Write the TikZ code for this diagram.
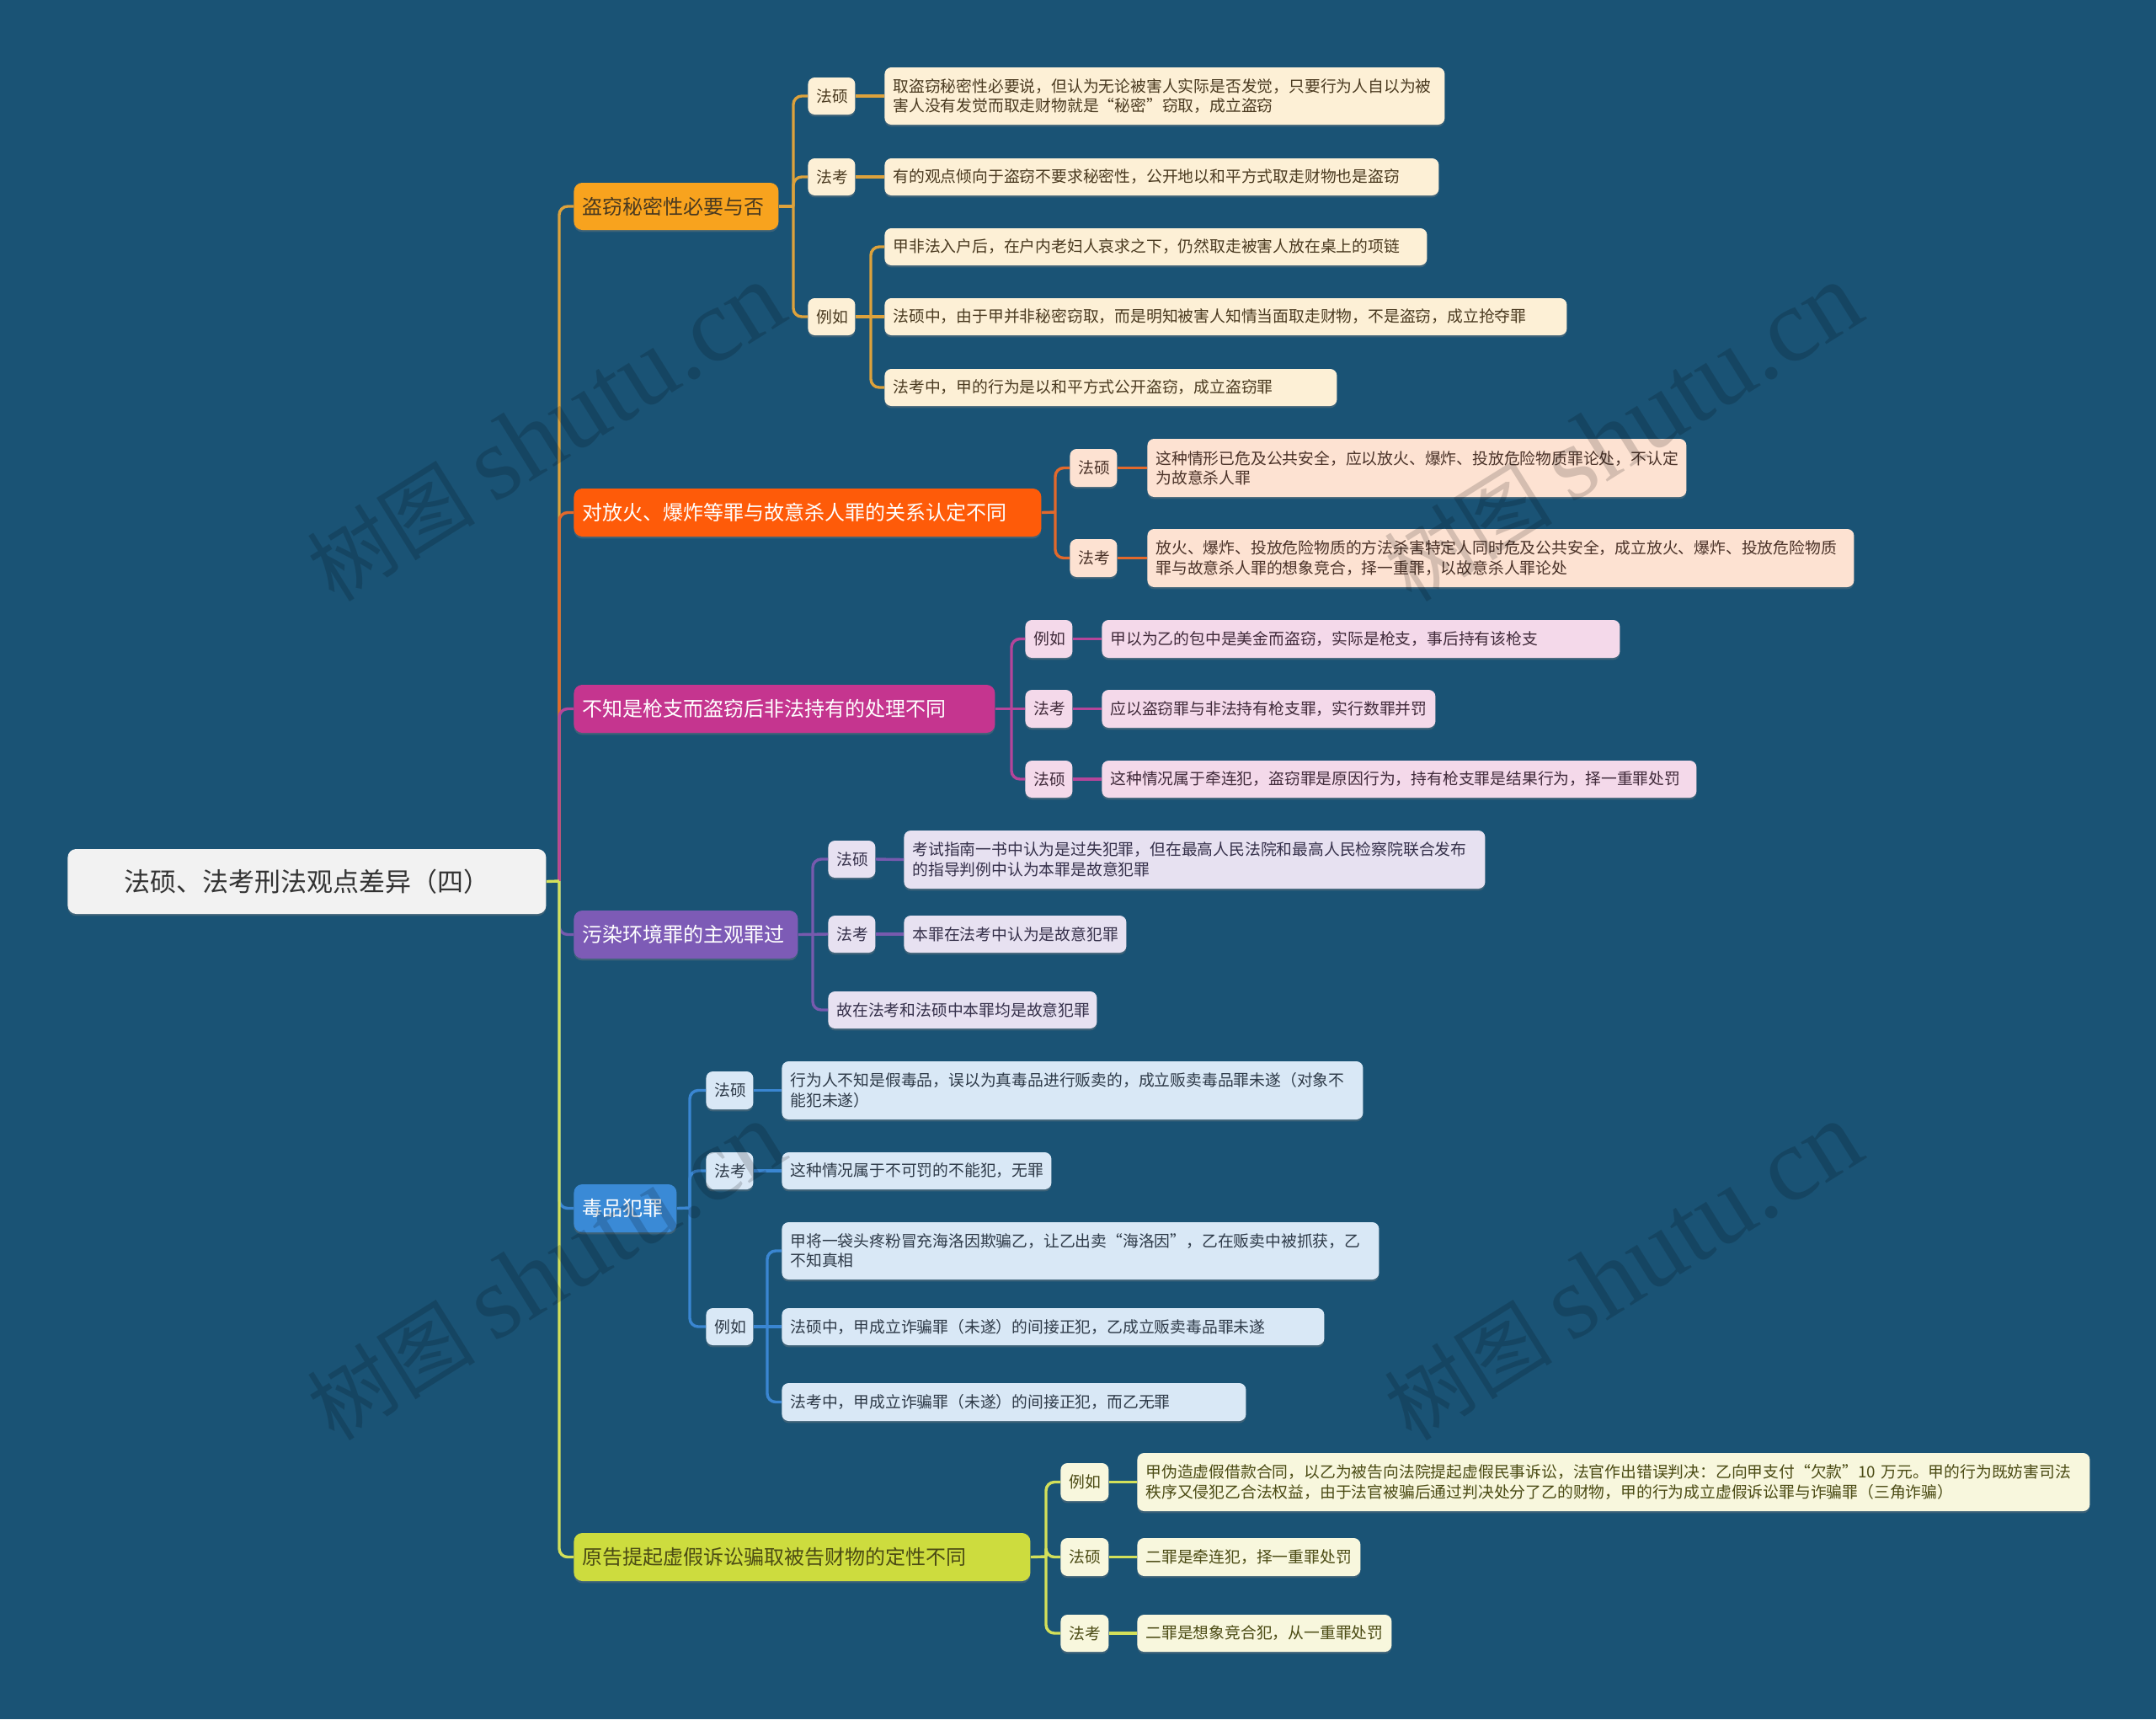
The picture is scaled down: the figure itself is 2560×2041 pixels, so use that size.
\documentclass[tikz,border=0pt]{standalone}
\usepackage{fontspec}
\setmainfont{Noto Sans CJK SC}
\newfontfamily\wmserif{Liberation Serif}
\usetikzlibrary{shadows}

\definecolor{bgblue}{HTML}{1A5375}
\definecolor{rootfill}{HTML}{F2F2F2}
\definecolor{roottext}{HTML}{333333}
\definecolor{afill}{HTML}{F8A31E}\definecolor{aline}{HTML}{DDA23C}\definecolor{aleaf}{HTML}{FDF0D6}\definecolor{atext}{HTML}{4A3A20}
\definecolor{bfill}{HTML}{FE5B09}\definecolor{bline}{HTML}{E2692C}\definecolor{bleaf}{HTML}{FDE2D2}\definecolor{btext}{HTML}{4A3228}
\definecolor{cfill}{HTML}{C5358F}\definecolor{cline}{HTML}{B5459A}\definecolor{cleaf}{HTML}{F4D9EA}\definecolor{ctext}{HTML}{402A3A}
\definecolor{dfill}{HTML}{7D5BB6}\definecolor{dline}{HTML}{775AAE}\definecolor{dleaf}{HTML}{E7E1F1}\definecolor{dtext}{HTML}{35304A}
\definecolor{efill}{HTML}{3A8AD6}\definecolor{eline}{HTML}{3A86D2}\definecolor{eleaf}{HTML}{D9E8F6}\definecolor{etext}{HTML}{2E3A48}
\definecolor{ffill}{HTML}{CDDC3E}\definecolor{fline}{HTML}{D3E05A}\definecolor{fleaf}{HTML}{F8F7DD}\definecolor{ftext}{HTML}{4B4B14}

\tikzset{
  box/.style={rounded corners=4pt, inner xsep=5pt, inner ysep=0pt,
    drop shadow={shadow xshift=0pt, shadow yshift=-1.2pt, opacity=.35}},
  rootbox/.style={box, rounded corners=5pt, fill=rootfill, text=roottext, align=center, font=\fontsize{15.5}{18}\selectfont},
  topic/.style={box, rounded corners=5pt, align=left, font=\fontsize{12}{14}\selectfont},
  tag/.style={box, align=center, font=\fontsize{9.4}{11.7}\selectfont},
  leaf/.style={box, align=left, font=\fontsize{9.4}{11.7}\selectfont},
  link/.style={draw=#1, line width=1.7pt, rounded corners=5pt},
  watermark/.style={rotate=32, text=black, opacity=.16},
}

\newcommand\mmnode[7]{%
  \pgfmathsetmacro\mmtw{(#5-#3)/2-10}%
  \pgfmathsetmacro\mmht{(#6-#4)/2}%
  \node[#2, anchor=west, text width=\mmtw pt, minimum height=\mmht pt]
    (#1) at (#3,{(#4+#6)/2}) {#7};}

\begin{document}
\begin{tikzpicture}[x=0.5pt, y=-0.5pt]
\useasboundingbox (0,0) rectangle (2560,2041);
\fill[bgblue] (0,0) rectangle (2560,2041);

\mmnode{root}{rootbox}{80}{1008}{648}{1085}{法硕、法考刑法观点差异（四）}

\mmnode{b1}{topic, fill=afill, text=atext}{681}{217}{924}{273}{盗窃秘密性必要与否}
\mmnode{l1a}{tag, fill=aleaf, text=atext}{959}{92}{1015}{136}{法硕}
\mmnode{t1a}{leaf, fill=aleaf, text=atext}{1050}{80}{1715}{148}{取盗窃秘密性必要说，但认为无论被害人实际是否发觉，只要行为人自以为被\\害人没有发觉而取走财物就是“秘密”窃取，成立盗窃}
\mmnode{l1b}{tag, fill=aleaf, text=atext}{959}{188}{1015}{232}{法考}
\mmnode{t1b}{leaf, fill=aleaf, text=atext}{1050}{188}{1708}{232}{有的观点倾向于盗窃不要求秘密性，公开地以和平方式取走财物也是盗窃}
\mmnode{l1c}{tag, fill=aleaf, text=atext}{959}{354}{1015}{398}{例如}
\mmnode{t1c1}{leaf, fill=aleaf, text=atext}{1050}{271}{1694}{315}{甲非法入户后，在户内老妇人哀求之下，仍然取走被害人放在桌上的项链}
\mmnode{t1c2}{leaf, fill=aleaf, text=atext}{1050}{354}{1860}{398}{法硕中，由于甲并非秘密窃取，而是明知被害人知情当面取走财物，不是盗窃，成立抢夺罪}
\mmnode{t1c3}{leaf, fill=aleaf, text=atext}{1050}{438}{1587}{482}{法考中，甲的行为是以和平方式公开盗窃，成立盗窃罪}

\mmnode{b2}{topic, fill=bfill, text=white}{681}{580}{1236}{637}{对放火、爆炸等罪与故意杀人罪的关系认定不同}
\mmnode{l2a}{tag, fill=bleaf, text=btext}{1270}{533}{1326}{578}{法硕}
\mmnode{t2a}{leaf, fill=bleaf, text=btext}{1362}{521}{2002}{590}{这种情形已危及公共安全，应以放火、爆炸、投放危险物质罪论处，不认定\\为故意杀人罪}
\mmnode{l2b}{tag, fill=bleaf, text=btext}{1270}{640}{1326}{685}{法考}
\mmnode{t2b}{leaf, fill=bleaf, text=btext}{1362}{628}{2201}{697}{放火、爆炸、投放危险物质的方法杀害特定人同时危及公共安全，成立放火、爆炸、投放危险物质\\罪与故意杀人罪的想象竞合，择一重罪，以故意杀人罪论处}

\mmnode{b3}{topic, fill=cfill, text=white}{681}{813}{1181}{870}{不知是枪支而盗窃后非法持有的处理不同}
\mmnode{l3a}{tag, fill=cleaf, text=ctext}{1217}{736}{1273}{781}{例如}
\mmnode{t3a}{leaf, fill=cleaf, text=ctext}{1308}{736}{1923}{781}{甲以为乙的包中是美金而盗窃，实际是枪支，事后持有该枪支}
\mmnode{l3b}{tag, fill=cleaf, text=ctext}{1217}{819}{1273}{864}{法考}
\mmnode{t3b}{leaf, fill=cleaf, text=ctext}{1308}{819}{1704}{864}{应以盗窃罪与非法持有枪支罪，实行数罪并罚}
\mmnode{l3c}{tag, fill=cleaf, text=ctext}{1217}{903}{1273}{947}{法硕}
\mmnode{t3c}{leaf, fill=cleaf, text=ctext}{1308}{903}{2014}{947}{这种情况属于牵连犯，盗窃罪是原因行为，持有枪支罪是结果行为，择一重罪处罚}

\mmnode{b4}{topic, fill=dfill, text=white}{681}{1081}{947}{1138}{污染环境罪的主观罪过}
\mmnode{l4a}{tag, fill=dleaf, text=dtext}{983}{998}{1039}{1042}{法硕}
\mmnode{t4a}{leaf, fill=dleaf, text=dtext}{1073}{986}{1763}{1055}{考试指南一书中认为是过失犯罪，但在最高人民法院和最高人民检察院联合发布\\的指导判例中认为本罪是故意犯罪}
\mmnode{l4b}{tag, fill=dleaf, text=dtext}{983}{1087}{1039}{1131}{法考}
\mmnode{t4b}{leaf, fill=dleaf, text=dtext}{1073}{1087}{1337}{1131}{本罪在法考中认为是故意犯罪}
\mmnode{t4c}{leaf, fill=dleaf, text=dtext}{983}{1177}{1302}{1221}{故在法考和法硕中本罪均是故意犯罪}

\mmnode{b5}{topic, fill=efill, text=white}{681}{1406}{803}{1463}{毒品犯罪}
\mmnode{l5a}{tag, fill=eleaf, text=etext}{838}{1272}{894}{1317}{法硕}
\mmnode{t5a}{leaf, fill=eleaf, text=etext}{928}{1260}{1618}{1329}{行为人不知是假毒品，误以为真毒品进行贩卖的，成立贩卖毒品罪未遂（对象不\\能犯未遂）}
\mmnode{l5b}{tag, fill=eleaf, text=etext}{838}{1368}{894}{1412}{法考}
\mmnode{t5b}{leaf, fill=eleaf, text=etext}{928}{1368}{1248}{1412}{这种情况属于不可罚的不能犯，无罪}
\mmnode{l5c}{tag, fill=eleaf, text=etext}{838}{1553}{894}{1597}{例如}
\mmnode{t5c1}{leaf, fill=eleaf, text=etext}{928}{1451}{1637}{1519}{甲将一袋头疼粉冒充海洛因欺骗乙，让乙出卖“海洛因”，乙在贩卖中被抓获，乙\\不知真相}
\mmnode{t5c2}{leaf, fill=eleaf, text=etext}{928}{1553}{1572}{1597}{法硕中，甲成立诈骗罪（未遂）的间接正犯，乙成立贩卖毒品罪未遂}
\mmnode{t5c3}{leaf, fill=eleaf, text=etext}{928}{1642}{1479}{1687}{法考中，甲成立诈骗罪（未遂）的间接正犯，而乙无罪}

\mmnode{b6}{topic, fill=ffill, text=ftext}{681}{1820}{1223}{1877}{原告提起虚假诉讼骗取被告财物的定性不同}
\mmnode{l6a}{tag, fill=fleaf, text=ftext}{1259}{1737}{1316}{1782}{例如}
\mmnode{t6a}{leaf, fill=fleaf, text=ftext}{1350}{1725}{2481}{1794}{甲伪造虚假借款合同，以乙为被告向法院提起虚假民事诉讼，法官作出错误判决：乙向甲支付“欠款”10~万元。甲的行为既妨害司法\\秩序又侵犯乙合法权益，由于法官被骗后通过判决处分了乙的财物，甲的行为成立虚假诉讼罪与诈骗罪（三角诈骗）}
\mmnode{l6b}{tag, fill=fleaf, text=ftext}{1259}{1826}{1316}{1871}{法硕}
\mmnode{t6b}{leaf, fill=fleaf, text=ftext}{1350}{1826}{1615}{1871}{二罪是牵连犯，择一重罪处罚}
\mmnode{l6c}{tag, fill=fleaf, text=ftext}{1259}{1917}{1316}{1961}{法考}
\mmnode{t6c}{leaf, fill=fleaf, text=ftext}{1350}{1917}{1652}{1961}{二罪是想象竞合犯，从一重罪处罚}

\coordinate (rj) at (664,1046);
\draw[link=aline] (rj) |- (b1.west);
\draw[link=bline] (rj) |- (b2.west);
\draw[link=cline] (rj) |- (b3.west);
\draw[link=dline] (rj) |- (b4.west);
\draw[link=eline] (rj) |- (b5.west);
\draw[link=fline] (rj) |- (b6.west);
\draw[link=fline] (root.east) -- (rj);

\coordinate (j1) at (942,245);
\coordinate (j1c) at (1034,376);
\draw[link=aline] (b1.east) -- (j1);
\draw[link=aline] (j1) |- (l1a.west);
\draw[link=aline] (j1) |- (l1b.west);
\draw[link=aline] (j1) |- (l1c.west);
\draw[link=aline] (l1a.east) -- (t1a.west);
\draw[link=aline] (l1b.east) -- (t1b.west);
\draw[link=aline] (l1c.east) -- (j1c);
\draw[link=aline] (j1c) |- (t1c1.west);
\draw[link=aline] (j1c) -- (t1c2.west);
\draw[link=aline] (j1c) |- (t1c3.west);

\coordinate (j2) at (1253,608);
\draw[link=bline] (b2.east) -- (j2);
\draw[link=bline] (j2) |- (l2a.west);
\draw[link=bline] (j2) |- (l2b.west);
\draw[link=bline] (l2a.east) -- (t2a.west);
\draw[link=bline] (l2b.east) -- (t2b.west);

\coordinate (j3) at (1201,841);
\draw[link=cline] (b3.east) -- (l3b.west);
\draw[link=cline] (j3) |- (l3a.west);
\draw[link=cline] (j3) |- (l3c.west);
\draw[link=cline] (l3a.east) -- (t3a.west);
\draw[link=cline] (l3b.east) -- (t3b.west);
\draw[link=cline] (l3c.east) -- (t3c.west);

\coordinate (j4) at (965,1109);
\draw[link=dline] (b4.east) -- (l4b.west);
\draw[link=dline] (j4) |- (l4a.west);
\draw[link=dline] (j4) |- (t4c.west);
\draw[link=dline] (l4a.east) -- (t4a.west);
\draw[link=dline] (l4b.east) -- (t4b.west);

\coordinate (j5) at (819,1434);
\coordinate (j5c) at (911,1575);
\draw[link=eline] (b5.east) -- (j5);
\draw[link=eline] (j5) |- (l5a.west);
\draw[link=eline] (j5) |- (l5b.west);
\draw[link=eline] (j5) |- (l5c.west);
\draw[link=eline] (l5a.east) -- (t5a.west);
\draw[link=eline] (l5b.east) -- (t5b.west);
\draw[link=eline] (l5c.east) -- (j5c);
\draw[link=eline] (j5c) |- (t5c1.west);
\draw[link=eline] (j5c) -- (t5c2.west);
\draw[link=eline] (j5c) |- (t5c3.west);

\coordinate (j6) at (1242,1848);
\draw[link=fline] (b6.east) -- (j6);
\draw[link=fline] (j6) |- (l6a.west);
\draw[link=fline] (j6) |- (l6b.west);
\draw[link=fline] (j6) |- (l6c.west);
\draw[link=fline] (l6a.east) -- (t6a.west);
\draw[link=fline] (l6b.east) -- (t6b.west);
\draw[link=fline] (l6c.east) -- (t6c.west);

\foreach \wx/\wy/\wn in {648/514/wm1, 1927/514/wm2, 648/1510/wm3, 1927/1510/wm4}
  \node[watermark] (\wn) at (\wx,\wy) {\fontsize{50}{50}\selectfont 树图 {\wmserif\fontsize{62}{62}\selectfont shutu.cn}};
\end{tikzpicture}
\end{document}
